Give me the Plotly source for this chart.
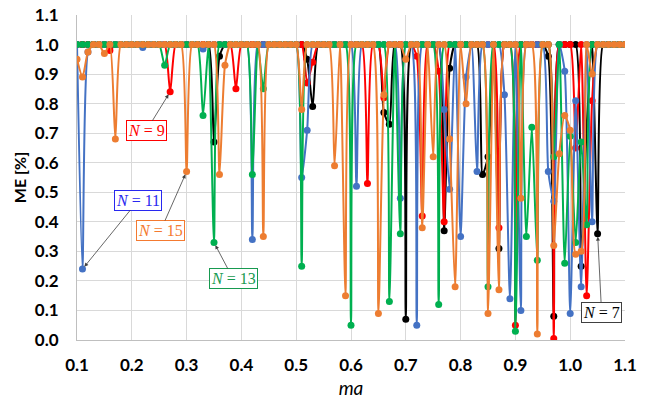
import plotly.graph_objects as go

# x values: m_a from 0.10 to 1.10 in steps of 0.01
ma = [round(0.10 + 0.01 * i, 2) for i in range(101)]

me_n7 = [
    1, 1, 1, 1, 1, 1, 1, 1, 1, 1,
    1, 1, 1, 1, 1, 1, 1, 1, 1, 1,
    1, 1, 1, 1, 1, 0.67, 0.96, 1, 1, 1,
    1, 1, 1, 1, 1, 1, 1, 1, 1, 1,
    1, 1, 0.95, 0.79, 1, 1, 1, 1, 1, 1,
    1, 1, 1, 1, 1, 1, 0.77, 0.73, 1, 1,
    0.07, 1, 1, 1, 1, 1, 1, 0.37, 0.92, 1,
    1, 1, 1, 1, 0.56, 0.62, 1, 0.31, 1, 1,
    1, 1, 1, 1, 1, 1, 0.96, 0.08, 1, 1,
    1, 1, 0.25, 0.72, 1, 0.36, 1, 1, 1, 1,
    1,
]
me_n9 = [
    1, 1, 1, 1, 1, 1, 0.98, 1, 1, 1,
    1, 1, 1, 1, 1, 1, 1, 0.84, 1, 1,
    1, 1, 1, 1, 1, 1, 1, 1, 1, 0.85,
    1, 1, 1, 1, 1, 1, 1, 1, 1, 1,
    1, 1, 0.87, 0.94, 1, 1, 1, 1, 1, 1,
    1, 1, 1, 0.53, 1, 1, 0.82, 1, 1, 1,
    1, 1, 0.96, 0.42, 1, 1, 0.91, 0.40, 1, 1,
    1, 1, 1, 1, 1, 1, 1, 0.38, 1, 1,
    0.05, 1, 1, 1, 1, 1, 1, 0.005, 1, 1,
    1, 0.65, 1, 0.15, 0.81, 1, 1, 1, 1, 1,
    1,
]
me_n11 = [
    1, 0.24, 0.975, 1, 1, 1, 1, 1, 1, 1,
    1, 1, 0.99, 1, 1, 1, 1, 1, 1, 1,
    1, 1, 1, 0.985, 1, 1, 1, 1, 1, 1,
    1, 1, 0.34, 1, 1, 1, 1, 1, 1, 1,
    1, 0.55, 0.71, 1, 1, 1, 1, 1, 1, 1,
    1, 0.52, 1, 1, 1, 1, 1, 1, 1, 0.48,
    1, 1, 0.05, 1, 1, 1, 1, 0.78, 0.51, 1,
    0.35, 0.89, 1, 0.57, 1, 1, 1, 1, 0.83, 0.14,
    1, 0.10, 1, 1, 1, 1, 0.57, 0.47, 1, 0.91,
    0.09, 0.81, 0.18, 1, 0.40, 1, 1, 1, 1, 1,
    1,
]
me_n13 = [
    1, 1, 1, 1, 1, 1, 1, 1, 1, 1,
    1, 1, 1, 1, 1, 1, 0.93, 1, 1, 1,
    1, 1, 1, 0.76, 1, 0.33, 1, 1, 1, 1,
    1, 1, 0.56, 1, 0.85, 1, 1, 1, 1, 1,
    1, 0.25, 1, 1, 1, 1, 1, 1, 1, 1,
    0.05, 1, 1, 1, 1, 1, 1, 0.13, 1, 0.36,
    1, 1, 1, 1, 1, 1, 0.12, 1, 1, 1,
    1, 1, 1, 1, 1, 0.18, 1, 1, 1, 1,
    0.03, 1, 0.35, 0.72, 0.27, 1, 1, 0.62, 1, 0.26,
    0.69, 0.33, 0.67, 0.39, 1, 1, 1, 1, 1, 1,
    1,
]
me_n15 = [
    0.95, 0.89, 0.975, 1, 1, 0.97, 1, 0.68, 1, 1,
    1, 1, 1, 1, 1, 1, 1, 1, 1, 1,
    0.57, 1, 1, 1, 1, 1, 0.56, 0.93, 1, 1,
    1, 1, 1, 1, 0.35, 1, 1, 1, 1, 1,
    1, 0.78, 1, 1, 1, 1, 1, 0.59, 1, 0.15,
    1, 1, 1, 1, 1, 0.09, 0.83, 1, 1, 1,
    0.95, 1, 1, 0.38, 1, 0.62, 1, 1, 0.68, 0.18,
    1, 0.80, 1, 1, 1, 0.09, 1, 0.17, 1, 1,
    1, 0.48, 1, 1, 0.02, 1, 1, 0.32, 0.63, 0.76,
    0.71, 0.29, 0.30, 1, 0.90, 1, 1, 1, 1, 1,
    1,
]

series = [
    ("N = 7", me_n7, "#000000"),
    ("N = 9", me_n9, "#FF0000"),
    ("N = 11", me_n11, "#4472C4"),
    ("N = 13", me_n13, "#00B050"),
    ("N = 15", me_n15, "#ED7D31"),
]

x_ticks = [0.1, 0.2, 0.3, 0.4, 0.5, 0.6, 0.7, 0.8, 0.9, 1.0, 1.1]
y_ticks = [0.0, 0.1, 0.2, 0.3, 0.4, 0.5, 0.6, 0.7, 0.8, 0.9, 1.0, 1.1]

fig = go.Figure()
for name, vals, col in series:
    fig.add_trace(go.Scatter(
        x=ma, y=vals, name=name, mode="lines+markers",
        line=dict(color=col, width=2, shape="spline", smoothing=0.6),
        marker=dict(color=col, size=7),
        showlegend=False,
    ))

labels = [
    # text, x, y, ax, ay, text color, border color
    ("<i>N</i> = 9", 0.27, 0.84, -24, 39, "#FF0000", "#FF0000"),
    ("<i>N</i> = 11", 0.11, 0.24, 56, -69, "#2828F0", "#2828F0"),
    ("<i>N</i> = 15", 0.30, 0.57, -26, 59, "#F47A30", "#F47A30"),
    ("<i>N</i> = 13", 0.35, 0.33, 19, 36, "#179A50", "#179A50"),
    ("<i>N</i> = 7", 1.05, 0.36, 4, 79, "#000000", "#404040"),
]
for txt, lx, ly, ax, ay, tc, bc in labels:
    fig.add_annotation(
        x=lx, y=ly, ax=ax, ay=ay, text=txt, showarrow=True,
        arrowhead=2, arrowsize=1, arrowwidth=0.8, arrowcolor="#404040",
        standoff=3,
        font=dict(family="Liberation Serif", size=16, color=tc),
        bordercolor=bc, borderwidth=1, borderpad=1, bgcolor="white",
    )

fig.update_layout(
    width=651, height=399,
    margin=dict(l=77, r=26, t=15, b=59, autoexpand=False),
    paper_bgcolor="white", plot_bgcolor="white",
    font=dict(family="Lato", color="#000000"),
)
fig.update_xaxes(
    range=[0.1, 1.1], tickvals=x_ticks, tickformat=".1f",
    tickfont=dict(family="Lato", size=17, weight="bold", color="#000000"),
    showgrid=True, gridcolor="#D9D9D9", gridwidth=1,
    showline=True, linecolor="#BFBFBF", linewidth=1,
    zeroline=False, ticks="", ticklabelstandoff=10, automargin=False,
    title=dict(text="<i>ma</i>", font=dict(family="Lato", size=19, color="#000000"), standoff=12),
)
fig.update_yaxes(
    range=[0.0, 1.1], tickvals=y_ticks, tickformat=".1f",
    tickfont=dict(family="Lato", size=17, weight="bold", color="#000000"),
    showgrid=True, gridcolor="#D9D9D9", gridwidth=1,
    showline=True, linecolor="#BFBFBF", linewidth=1,
    zeroline=False, ticks="", ticklabelstandoff=14, automargin=False,
    title=dict(text="ME [%]", font=dict(family="Lato", size=16, weight="bold", color="#000000"), standoff=4),
)

fig.write_html("out.html")
